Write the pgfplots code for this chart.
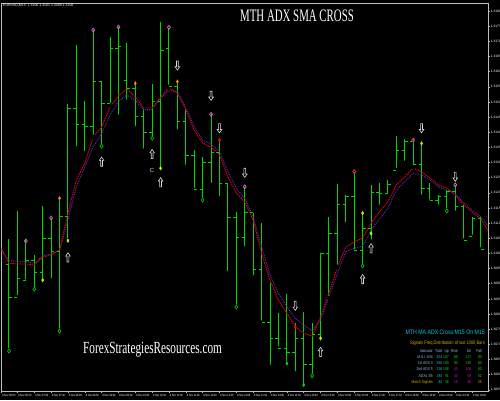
\documentclass[border=0pt]{standalone}
\usepackage{fontspec}
\setmainfont{Liberation Sans}
\newfontfamily\titlefont[FakeStretch=0.62]{Liberation Serif}
\newfontfamily\wmfont[FakeStretch=0.66]{Liberation Serif}
\newfontfamily\narrowsans[FakeStretch=0.8]{Liberation Sans}
\usepackage{pgfplots}
\usepackage{pgfplotstable}
\pgfplotsset{compat=1.18}

\definecolor{barg}{RGB}{0,215,0}
\definecolor{ma1}{RGB}{225,0,0}
\definecolor{ma2}{RGB}{95,45,200}
\definecolor{pinkc}{RGB}{230,100,200}
\definecolor{redc}{RGB}{255,40,80}
\definecolor{greenc}{RGB}{0,190,0}
\definecolor{orangem}{RGB}{255,140,0}
\definecolor{yellowm}{RGB}{235,215,0}
\definecolor{ygm}{RGB}{185,255,0}
\definecolor{axisc}{RGB}{190,190,190}
\definecolor{tcyan}{RGB}{0,200,220}
\definecolor{tgold}{RGB}{215,170,0}
\definecolor{tlight}{RGB}{150,185,235}
\definecolor{tgreen}{RGB}{0,225,0}
\definecolor{tmag}{RGB}{220,0,220}

\pgfdeclareplotmark{openL}{\pgfpathmoveto{\pgfqpoint{-3pt}{0pt}}\pgfpathlineto{\pgfqpoint{0pt}{0pt}}\pgfusepathqstroke}
\pgfdeclareplotmark{closeR}{\pgfpathmoveto{\pgfqpoint{0pt}{0pt}}\pgfpathlineto{\pgfqpoint{3pt}{0pt}}\pgfusepathqstroke}
\pgfdeclareplotmark{uparr}{%
 \pgfpathmoveto{\pgfqpoint{0pt}{4.6pt}}%
 \pgfpathlineto{\pgfqpoint{2.3pt}{1.2pt}}%
 \pgfpathlineto{\pgfqpoint{0.9pt}{1.2pt}}%
 \pgfpathlineto{\pgfqpoint{0.9pt}{-4.6pt}}%
 \pgfpathlineto{\pgfqpoint{-0.9pt}{-4.6pt}}%
 \pgfpathlineto{\pgfqpoint{-0.9pt}{1.2pt}}%
 \pgfpathlineto{\pgfqpoint{-2.3pt}{1.2pt}}%
 \pgfpathclose\pgfusepathqfillstroke}
\pgfdeclareplotmark{dnarr}{%
 \pgfpathmoveto{\pgfqpoint{0pt}{-4.6pt}}%
 \pgfpathlineto{\pgfqpoint{2.3pt}{-1.2pt}}%
 \pgfpathlineto{\pgfqpoint{0.9pt}{-1.2pt}}%
 \pgfpathlineto{\pgfqpoint{0.9pt}{4.6pt}}%
 \pgfpathlineto{\pgfqpoint{-0.9pt}{4.6pt}}%
 \pgfpathlineto{\pgfqpoint{-0.9pt}{-1.2pt}}%
 \pgfpathlineto{\pgfqpoint{-2.3pt}{-1.2pt}}%
 \pgfpathclose\pgfusepathqfillstroke}

\pgfplotstableread{
i open high low close
1 1.30962 1.31047 1.30681 1.30855
2 1.30855 1.31141 1.30855 1.30918
3 1.30912 1.31044 1.30907 1.30978
4 1.30978 1.30995 1.30882 1.30936
5 1.30936 1.31157 1.30912 1.31050
6 1.31050 1.31116 1.30912 1.31008
7 1.31008 1.31182 1.30745 1.31121
8 1.31121 1.31493 1.31042 1.31479
9 1.31479 1.31688 1.31347 1.31424
10 1.31424 1.31504 1.31330 1.31420
11 1.31420 1.31737 1.31385 1.31567
12 1.31567 1.31569 1.31354 1.31495
13 1.31495 1.31713 1.31490 1.31677
14 1.31677 1.31748 1.31451 1.31684
15 1.31572 1.31695 1.31501 1.31545
16 1.31545 1.31561 1.31413 1.31451
17 1.31451 1.31476 1.31339 1.31398
18 1.31398 1.31559 1.31380 1.31501
19 1.31501 1.31765 1.31281 1.31671
20 1.31677 1.31743 1.31550 1.31550
21 1.31550 1.31567 1.31402 1.31437
22 1.31437 1.31476 1.31286 1.31322
23 1.31322 1.31341 1.31209 1.31212
24 1.31212 1.31319 1.31176 1.31299
25 1.31299 1.31459 1.31226 1.31332
26 1.31332 1.31374 1.31182 1.31231
27 1.31231 1.31231 1.30934 1.31119
28 1.31119 1.31138 1.30824 1.31053
29 1.31053 1.31220 1.31017 1.31134
30 1.31134 1.31134 1.30921 1.30948
31 1.30948 1.31101 1.30771 1.30771
32 1.30771 1.30901 1.30626 1.30720
33 1.30720 1.30802 1.30687 1.30687
34 1.30687 1.30866 1.30637 1.30672
35 1.30672 1.30769 1.30604 1.30720
36 1.30720 1.30808 1.30566 1.30635
37 1.30635 1.30771 1.30596 1.30731
38 1.30731 1.31000 1.30720 1.31000
39 1.31000 1.31121 1.30852 1.31066
40 1.31066 1.31228 1.30956 1.31160
41 1.31160 1.31193 1.31097 1.31187
42 1.31187 1.31270 1.31006 1.31011
43 1.31011 1.31134 1.30959 1.31083
44 1.31083 1.31226 1.31039 1.31200
45 1.31200 1.31231 1.31154 1.31198
46 1.31198 1.31242 1.31193 1.31226
47 1.31275 1.31388 1.31275 1.31339
48 1.31339 1.31377 1.31299 1.31369
49 1.31369 1.31380 1.31286 1.31292
50 1.31292 1.31363 1.31187 1.31215
51 1.31215 1.31233 1.31171 1.31176
52 1.31176 1.31193 1.31154 1.31187
53 1.31187 1.31209 1.31141 1.31204
54 1.31204 1.31226 1.31134 1.31154
55 1.31154 1.31160 1.31042 1.31044
56 1.31055 1.31121 1.31055 1.31116
57 1.31116 1.31121 1.31014 1.31014
58 1.31014 1.31028 1.30973 1.31000
}\bars

\pgfplotstableread{
i red blue
0 1.31021 1.31011
1 1.30968 1.30978
2 1.30965 1.30973
3 1.30965 1.30973
4 1.30962 1.30967
5 1.30988 1.30992
6 1.30995 1.30998
7 1.31011 1.31009
8 1.31133 1.31110
9 1.31242 1.31220
10 1.31298 1.31286
11 1.31384 1.31352
12 1.31417 1.31396
13 1.31483 1.31457
14 1.31520 1.31501
15 1.31543 1.31523
16 1.31516 1.31506
17 1.31480 1.31473
18 1.31480 1.31476
19 1.31516 1.31512
20 1.31546 1.31537
21 1.31529 1.31534
22 1.31473 1.31482
23 1.31407 1.31418
24 1.31364 1.31374
25 1.31351 1.31361
26 1.31325 1.31336
27 1.31252 1.31270
28 1.31199 1.31215
29 1.31170 1.31182
30 1.31110 1.31121
31 1.31001 1.31022
32 1.30912 1.30929
33 1.30846 1.30868
34 1.30803 1.30824
35 1.30757 1.30786
36 1.30737 1.30764
37 1.30727 1.30745
38 1.30790 1.30780
39 1.30869 1.30857
40 1.30955 1.30934
41 1.31021 1.31006
42 1.31038 1.31017
43 1.31051 1.31025
44 1.31100 1.31077
45 1.31137 1.31113
46 1.31170 1.31149
47 1.31226 1.31209
48 1.31252 1.31237
49 1.31282 1.31264
50 1.31269 1.31259
51 1.31249 1.31242
52 1.31226 1.31220
53 1.31216 1.31209
54 1.31193 1.31198
55 1.31160 1.31167
56 1.31137 1.31143
57 1.31114 1.31121
58 1.31071 1.31088
}\mas

\newcommand\tabfont{\narrowsans\fontsize{4.2}{5}\selectfont}
\newcommand\tc[4]{\node[anchor=base east, inner sep=0, text=#3, font=\tabfont] at (#1,#2) {#4};}

\begin{document}
\begin{tikzpicture}
\useasboundingbox (0,0) rectangle (500pt,400pt);
\fill[black] (0,0) rectangle (500pt,400pt);
\begin{axis}[
  at={(1pt,9pt)}, anchor=south west,
  scale only axis, width=487pt, height=388pt,
  xmin=0.05, xmax=57.89, ymin=1.30546, ymax=1.318264,
  axis line style={axisc, line width=0.8pt},
  tick style={axisc, line width=0.5pt},
  major tick length=2pt, tick align=outside,
  xtick pos=bottom, ytick pos=right, yticklabel pos=right,
  scaled y ticks=false,
  ytick={1.3055,1.3060,1.3065,1.3070,1.3075,1.3080,1.3085,1.3090,1.3095,1.3100,1.3105,1.3110,1.3115,1.3120,1.3125,1.3130,1.3135,1.3140,1.3145,1.3150,1.3155,1.3160,1.3165,1.3170,1.3175,1.3180},
  yticklabel style={font=\fontsize{3.3}{4}\selectfont, text=white, inner sep=0.6pt,
    /pgf/number format/fixed, /pgf/number format/fixed zerofill,
    /pgf/number format/precision=4, /pgf/number format/assume math mode=true},
  xtick={0.1,2,4,6,8,10,12,14,16,18,20,22,24,26,28,30,32,34,36,38,40,42,44,46,48,50,52,54,56},
  xticklabels={8 Nov 06:00,8 Nov 06:30,8 Nov 07:00,8 Nov 07:30,8 Nov 08:00,8 Nov 08:30,8 Nov 09:00,8 Nov 09:30,8 Nov 10:00,8 Nov 10:30,8 Nov 11:00,8 Nov 11:30,8 Nov 12:00,8 Nov 12:30,8 Nov 13:00,8 Nov 13:30,8 Nov 14:00,8 Nov 14:30,8 Nov 15:00,8 Nov 15:30,8 Nov 16:00,8 Nov 16:30,8 Nov 17:00,8 Nov 17:30,8 Nov 18:00,8 Nov 18:30,8 Nov 19:00,8 Nov 19:30,8 Nov 20:00},
  xticklabel style={font=\narrowsans\fontsize{3}{3.5}\selectfont, text=white, anchor=north west, inner sep=0.8pt},
]
% high-low
\addplot[only marks, mark=none, forget plot,
  error bars/.cd, y dir=plus, y explicit, error mark=none,
  error bar style={barg, line width=1pt}]
  table[x=i, y=low, y error expr=\thisrow{high}-\thisrow{low}] {\bars};
\addplot[only marks, mark=openL, mark options={barg, line width=1pt}] table[x=i, y=open] {\bars};
\addplot[only marks, mark=closeR, mark options={barg, line width=1pt}] table[x=i, y=close] {\bars};
% moving averages
\addplot[ma2, line width=0.9pt, densely dotted] table[x=i, y=blue] {\mas};
\addplot[ma1, line width=0.9pt, dash pattern=on 1.6pt off 0.8pt] table[x=i, y=red] {\mas};
% circles
\addplot[only marks, mark=o, mark size=1.5pt, mark options={pinkc, line width=0.7pt, yscale=1.3}]
 coordinates {(3,1.31041) (6,1.31117) (11,1.31737) (14,1.31747) (20,1.31746) (25,1.31459) (29,1.31220) (54,1.31226)};
\addplot[only marks, mark=o, mark size=1.5pt, mark options={redc, line width=0.7pt, yscale=1.3}]
 coordinates {(42,1.31270) (49,1.31374)};
\addplot[only marks, mark=o, mark size=1.5pt, mark options={greenc, line width=0.7pt, yscale=1.3}]
 coordinates {(1,1.30678) (4,1.30882) (7,1.30744) (12,1.31354) (18,1.31380) (24,1.31176) (28,1.30823) (37,1.30596) (43,1.30959) (53,1.31140)};
% small diamonds
\addplot[only marks, mark=diamond*, mark size=1.4pt, mark options={orangem, yscale=1.3}]
 coordinates {(7,1.31182) (16,1.31561) (21,1.31567)};
\addplot[only marks, mark=diamond*, mark size=1.4pt, mark options={red, yscale=1.3}]
 coordinates {(26,1.31374) (35,1.30757)};
\addplot[only marks, mark=diamond*, mark size=1.4pt, mark options={yellowm, yscale=1.3}]
 coordinates {(43,1.31133) (50,1.31363)};
\addplot[only marks, mark=diamond*, mark size=1.4pt, mark options={ygm, yscale=1.3}]
 coordinates {(5,1.30912) (8,1.31042) (19,1.31281) (38,1.30720) (44,1.31066)};
\addplot[only marks, mark=diamond*, mark size=1.4pt, mark options={tgreen, yscale=1.3}]
 coordinates {(34,1.30637) (36,1.30566)};
% arrows
\addplot[only marks, mark=uparr, mark options={draw=white!85!black, fill=black, line width=0.6pt}]
 coordinates {(8,1.30987) (12,1.31303) (18,1.31328) (19,1.31235) (38,1.30675) (43,1.30915) (44,1.31017)};
\addplot[only marks, mark=dnarr, mark options={draw=white!85!black, fill=black, line width=0.6pt}]
 coordinates {(21,1.31620) (25,1.31520) (26,1.31413) (29,1.31266) (35,1.30827) (50,1.31413) (54,1.31253)};
\addplot[only marks, mark=none, nodes near coords={C},
  every node near coord/.append style={anchor=center, text=white!85!black, font=\fontsize{6}{6}\selectfont}]
 coordinates {(18,1.31273)};
\end{axis}
\begin{scope}[x=1pt, y=-1pt, shift={(0pt,400pt)}]
\node[anchor=base west, inner sep=0, text=white, font=\fontsize{3.5}{4}\selectfont] at (3,6.5) {EURUSD,M15\ \ 1.3100 1.3101 1.3099 1.3100};
\node[anchor=base west, inner sep=0, text=white, font=\titlefont\fontsize{17.5}{18}\selectfont] at (240,22) {MTH ADX SMA CROSS};
\node[anchor=base west, inner sep=0, text=white, font=\wmfont\fontsize{17}{18}\selectfont] at (83,353) {ForexStrategiesResources.com};
\node[anchor=base east, inner sep=0, text=tcyan, font=\narrowsans\fontsize{6.5}{7}\selectfont] at (485,334) {MTH MA ADX Cross M15 On M15};
\node[anchor=base east, inner sep=0, text=tgold, font=\narrowsans\fontsize{5}{6}\selectfont] at (485,344.5) {Signals Freq Distribution of last 1000 Bars};
\tc{433}{352}{tlight}{Indicator}\tc{442.5}{352}{tlight}{Total}\tc{449}{352}{tlight}{Up}\tc{458}{352}{tlight}{Rise}\tc{471.5}{352}{tlight}{Dn}\tc{482}{352}{tlight}{Fall}
\tc{433}{358.3}{tlight}{M.A.I 1/34}\tc{442.5}{358.3}{tcyan}{254}\tc{449}{358.3}{tgreen}{107}\tc{458}{358.3}{tgreen}{88}\tc{471.5}{358.3}{tgreen}{127}\tc{482}{358.3}{tgreen}{90}
\tc{433}{364.6}{tlight}{1st ADX 3}\tc{442.5}{364.6}{tcyan}{260}\tc{449}{364.6}{tgreen}{100}\tc{458}{364.6}{tgreen}{90}\tc{471.5}{364.6}{tgreen}{130}\tc{482}{364.6}{tgreen}{60}
\tc{433}{370.9}{tlight}{2nd ADX 5}\tc{442.5}{370.9}{tcyan}{216}\tc{449}{370.9}{tgreen}{108}\tc{458}{370.9}{tmag}{45}\tc{471.5}{370.9}{tmag}{108}\tc{482}{370.9}{tgreen}{60}
\tc{433}{377.2}{tlight}{ADXs 3/5}\tc{442.5}{377.2}{tcyan}{184}\tc{449}{377.2}{tgreen}{91}\tc{458}{377.2}{tmag}{40}\tc{471.5}{377.2}{tmag}{93}\tc{482}{377.2}{tgreen}{51}
\tc{433}{383.5}{tgold}{Match Signals}\tc{442.5}{383.5}{tcyan}{84}\tc{449}{383.5}{tgreen}{38}\tc{458}{383.5}{tmag}{15}\tc{471.5}{383.5}{tmag}{46}\tc{482}{383.5}{tgold}{25}
\end{scope}
\end{tikzpicture}
\end{document}
